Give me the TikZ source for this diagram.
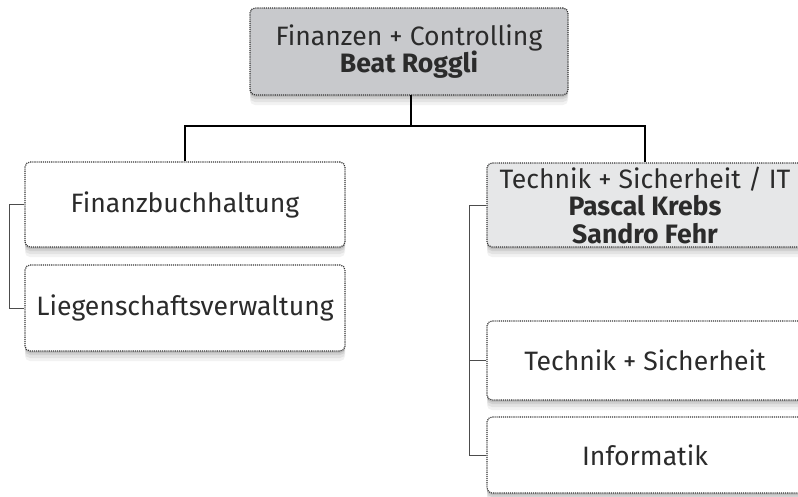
\documentclass[tikz,border=0pt]{standalone}
\usepackage{fontspec}
\setmainfont{Fira Sans}
\usetikzlibrary{shadows}
\definecolor{txt}{HTML}{2B2B2B}
\definecolor{topfill}{HTML}{C8C9CC}
\definecolor{itfill}{HTML}{E6E7E8}
\tikzset{
  softshadow/.style={
    drop shadow={shadow xshift=0pt,shadow yshift=-2pt,opacity=.09,fill=black},
    drop shadow={shadow xshift=0pt,shadow yshift=-4pt,opacity=.08,fill=black},
    drop shadow={shadow xshift=0pt,shadow yshift=-7pt,opacity=.06,fill=black},
    drop shadow={shadow xshift=0pt,shadow yshift=-10pt,opacity=.05,fill=black}},
  orgbox/.style={draw=black!80,line width=1.2pt,dash pattern=on 1.1pt off 1pt,
    rounded corners=5pt,fill=white,text=txt,align=center,font=\fontsize{26.6}{27.5}\selectfont,
    inner sep=0pt,softshadow},
  conn/.style={draw=black,line width=1.6pt},
  brack/.style={draw=black!70,line width=1pt}
}
\begin{document}
\begin{tikzpicture}[x=1pt,y=-1pt]
\useasboundingbox (0,0) rectangle (798,496);
\clip (0,0) rectangle (798,496);
\fill[white] (0,0) rectangle (798,496);
\node[orgbox,fill=topfill,minimum width=318pt,minimum height=87pt] (top) at (409,51.5)
  {Finanzen + Controlling\\\textbf{Beat Roggli}};
\node[orgbox,minimum width=320pt,minimum height=85pt] (fb) at (185,204.5) {Finanzbuchhaltung};
\node[orgbox,minimum width=320pt,minimum height=86pt] (lv) at (185,308) {Liegenschaftsverwaltung};
\node[orgbox,fill=itfill,minimum width=316pt,minimum height=84pt] (it) at (645,205)
  {Technik + Sicherheit / IT\\\textbf{Pascal Krebs}\\\textbf{Sandro Fehr}};
\node[orgbox,minimum width=316pt,minimum height=79pt] (ts) at (645,360.5) {Technik + Sicherheit};
\node[orgbox,minimum width=316pt,minimum height=76pt] (inf) at (645,455) {Informatik};
\coordinate (j) at (411,126);
\draw[conn] (411,95) -- (j);
\draw[conn] (j) -| (fb.north);
\draw[conn] (j) -| (it.north);
\draw[brack] (fb.west) -- ++(-15,0) |- (lv.west);
\draw[brack] (it.west) -- ++(-17,0) |- (inf.west);
\draw[brack] (ts.west) -- ++(-17,0);
\end{tikzpicture}
\end{document}
